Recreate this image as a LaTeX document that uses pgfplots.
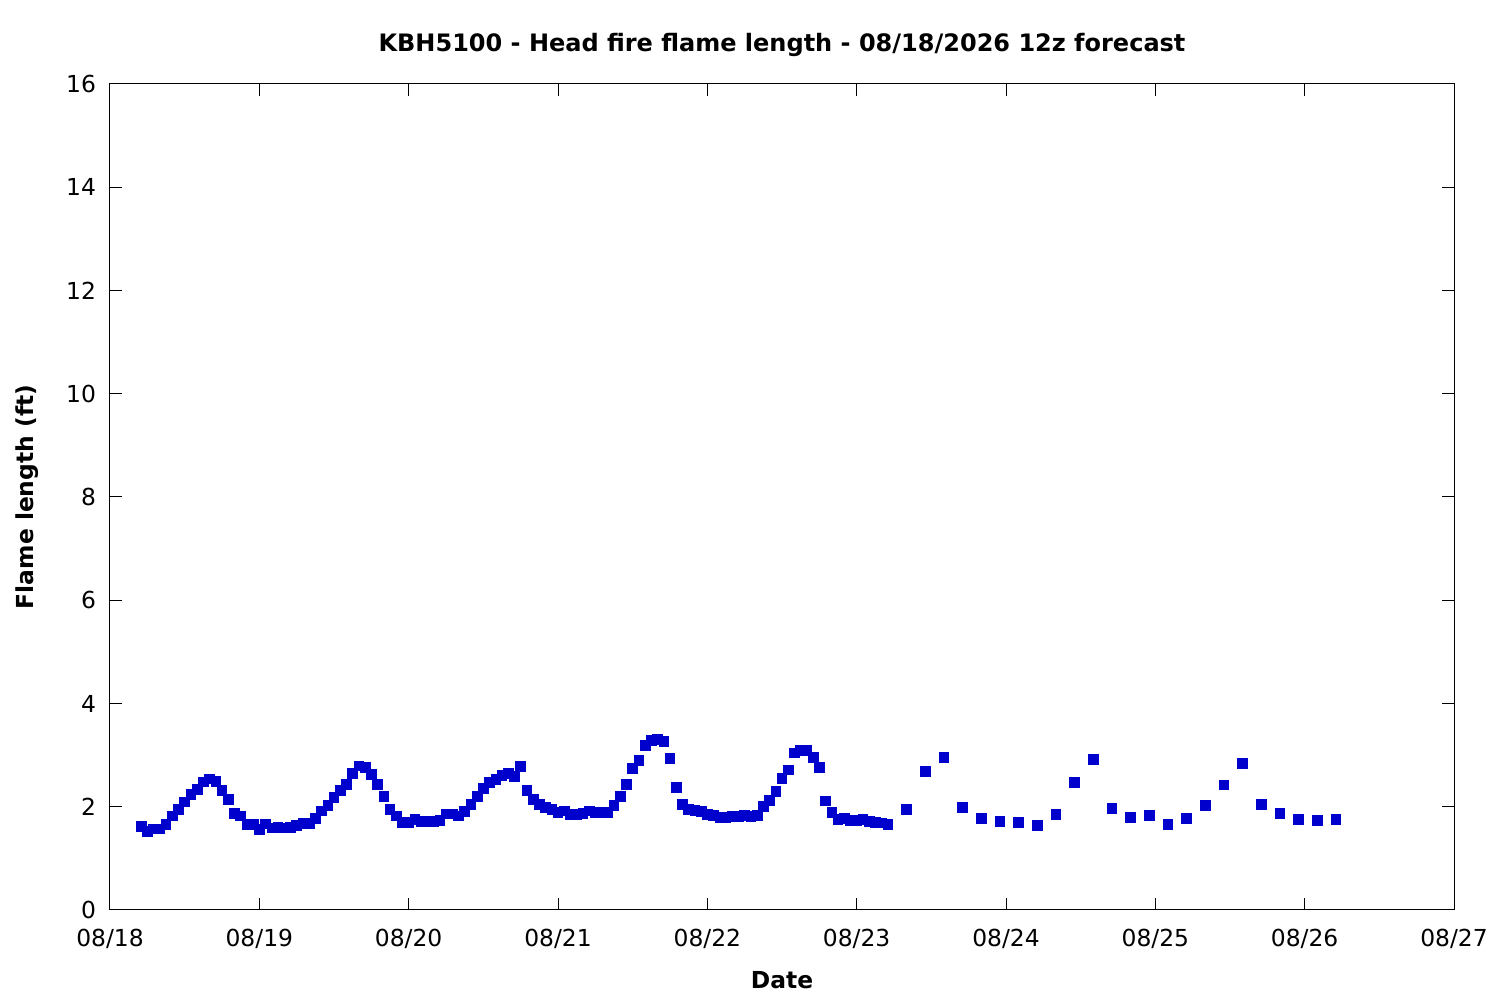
\documentclass[border=0pt]{standalone}
\usepackage{fontspec}
\setmainfont{DejaVu Sans}
\usepackage{pgfplots}
\pgfplotsset{compat=1.18}
\usepackage{pgfplotstable}

\definecolor{fcst}{RGB}{0,0,204}

% hours after 08/18 00z, flame length (ft)
\pgfplotstableread{
h   fl
5   1.62
6   1.52
7   1.57
8   1.57
9   1.66
10  1.82
11  1.95
12  2.09
13  2.24
14  2.34
15  2.48
16  2.54
17  2.49
18  2.32
19  2.14
20  1.87
21  1.82
22  1.66
23  1.66
24  1.56
25  1.67
26  1.59
27  1.60
28  1.59
29  1.60
30  1.64
31  1.68
32  1.68
33  1.78
34  1.92
35  2.03
36  2.18
37  2.32
38  2.43
39  2.65
40  2.79
41  2.76
42  2.63
43  2.43
44  2.20
45  1.95
46  1.82
47  1.70
48  1.70
49  1.76
50  1.72
51  1.72
52  1.72
53  1.74
54  1.86
55  1.86
56  1.82
57  1.91
58  2.05
59  2.20
60  2.36
61  2.47
62  2.53
63  2.61
64  2.65
65  2.59
66  2.78
67  2.32
68  2.14
69  2.05
70  1.99
71  1.95
72  1.89
73  1.92
74  1.85
75  1.85
76  1.87
77  1.92
78  1.89
79  1.89
80  1.89
81  2.03
82  2.20
83  2.43
84  2.74
85  2.90
86  3.19
87  3.29
88  3.31
89  3.27
90  2.94
91  2.38
92  2.05
93  1.95
94  1.93
95  1.91
96  1.85
97  1.83
98  1.79
99  1.79
100 1.81
101 1.81
102 1.83
103 1.81
104 1.83
105 2.01
106 2.12
107 2.30
108 2.55
109 2.71
110 3.04
111 3.09
112 3.09
113 2.96
114 2.76
115 2.11
116 1.89
117 1.76
118 1.78
119 1.74
120 1.74
121 1.76
122 1.72
123 1.70
124 1.69
125 1.66
128 1.95
131 2.69
134 2.96
137 1.99
140 1.78
143 1.72
146 1.70
149 1.64
152 1.85
155 2.47
158 2.92
161 1.97
164 1.79
167 1.83
170 1.66
173 1.78
176 2.03
179 2.42
182 2.84
185 2.05
188 1.87
191 1.76
194 1.74
197 1.76
}\flame

\begin{document}
\begin{tikzpicture}
\begin{axis}[
    scale only axis,
    width=672pt, height=413pt,
    at={(0,0)}, anchor=south west,
    font=\fontsize{11.7}{14}\selectfont,
    /pgf/number format/assume math mode=true,
    axis line style={line width=0.5pt},
    every tick/.style={black, line width=0.5pt},
    major tick length=6pt,
    tick align=inside,
    xmin=0, xmax=216,
    ymin=0, ymax=16,
    xtick={0,24,...,216},
    xticklabels={08/18,08/19,08/20,08/21,08/22,08/23,08/24,08/25,08/26,08/27},
    ytick={0,2,...,16},
    xticklabel style={anchor=base, yshift=-18.3pt},
    yticklabel style={anchor=east, xshift=-3.5pt},
    title={\fontsize{12}{14}\selectfont\bfseries KBH5100 - Head fire flame length - 08/18/2026 12z forecast},
    title style={at={(axis description cs:0.5,1.0327)}, anchor=center},
    xlabel={\bfseries Date},
    xlabel style={at={(axis description cs:0.5,-0.0848)}, anchor=center},
    ylabel={\bfseries Flame length (ft)},
    ylabel style={at={(axis description cs:-0.0618,0.5)}, anchor=center},
]
\addplot[only marks, mark=square*, mark size=2.4pt, color=fcst] table[x=h, y=fl] {\flame};
\end{axis}
\useasboundingbox (-55pt,-45pt) rectangle (695pt,455pt);
\end{tikzpicture}
\end{document}
